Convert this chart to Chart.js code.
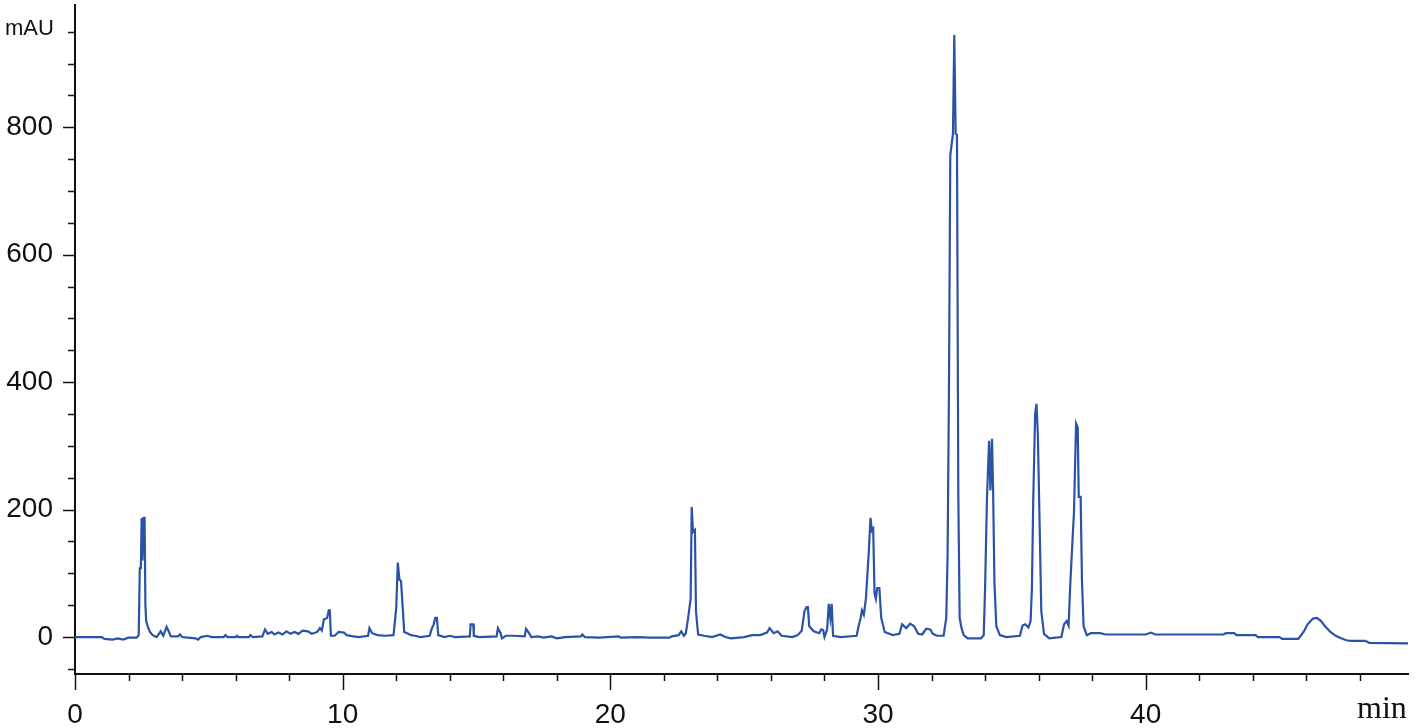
<!DOCTYPE html>
<html>
<head>
<meta charset="utf-8">
<title>Chromatogram</title>
<script src="https://cdn.jsdelivr.net/npm/chart.js@4.4.1/dist/chart.umd.min.js"></script>
<style>
    html, body { margin: 0; padding: 0; background: #fff; }
    #wrap { width: 1418px; height: 728px; }
</style>
</head>
<body>
<div id="wrap"><canvas id="chromChart" width="1418" height="728"></canvas></div>
<script>
// ==================== Data ====================
const retentionTimes = [
    0, 1.0, 1.1, 1.4, 1.6, 1.8, 2.0, 2.3, 2.38, 2.42, 2.46, 2.49, 2.52, 2.56, 2.60, 2.63, 2.66, 2.73, 2.80, 2.90,
    3.05, 3.2, 3.3, 3.42, 3.5, 3.58, 3.85, 3.92, 4.0, 4.5, 4.6, 4.7, 4.95, 5.1, 5.55, 5.62, 5.7, 6.0, 6.05, 6.1,
    6.5, 6.55, 6.65, 7.0, 7.1, 7.2, 7.35, 7.45, 7.6, 7.75, 7.9, 8.05, 8.2, 8.35, 8.5, 8.7, 8.85, 9.05, 9.15, 9.22,
    9.3, 9.42, 9.48, 9.52, 9.56, 9.7, 9.85, 10.05, 10.15, 10.4, 10.6, 10.95, 11.0, 11.1, 11.3, 11.6, 11.9, 12.0, 12.06, 12.12,
    12.18, 12.24, 12.3, 12.45, 12.55, 12.7, 12.9, 13.25, 13.32, 13.4, 13.46, 13.52, 13.57, 13.8, 14.0, 14.2, 14.75, 14.78, 14.88, 14.9,
    15.1, 15.75, 15.8, 15.9, 15.95, 16.1, 16.4, 16.8, 16.85, 16.95, 17.05, 17.3, 17.5, 17.8, 18.0, 18.3, 18.9, 18.95, 19.05, 19.6,
    20.3, 20.4, 21.0, 21.5, 22.2, 22.3, 22.55, 22.65, 22.75, 22.82, 22.9, 23.0, 23.04, 23.09, 23.16, 23.2, 23.28, 23.5, 23.8, 24.1,
    24.3, 24.5, 25.0, 25.3, 25.6, 25.85, 25.95, 26.1, 26.25, 26.4, 26.8, 27.0, 27.15, 27.25, 27.33, 27.38, 27.43, 27.6, 27.8, 27.88,
    27.95, 28.0, 28.1, 28.16, 28.22, 28.27, 28.32, 28.6, 29.2, 29.28, 29.35, 29.4, 29.47, 29.55, 29.65, 29.72, 29.77, 29.82, 29.87, 29.92,
    29.97, 30.05, 30.12, 30.25, 30.55, 30.8, 30.9, 31.05, 31.2, 31.35, 31.5, 31.65, 31.8, 31.95, 32.05, 32.2, 32.45, 32.55, 32.6, 32.65,
    32.7, 32.8, 32.85, 32.9, 32.95, 33.0, 33.05, 33.12, 33.2, 33.35, 33.85, 33.95, 34.0, 34.07, 34.15, 34.2, 34.26, 34.3, 34.35, 34.42,
    34.55, 34.8, 35.3, 35.4, 35.5, 35.62, 35.7, 35.75, 35.8, 35.87, 35.92, 35.97, 36.05, 36.1, 36.2, 36.4, 36.85, 36.95, 37.05, 37.12,
    37.18, 37.27, 37.32, 37.4, 37.46, 37.5, 37.57, 37.62, 37.68, 37.8, 37.95, 38.3, 38.5, 40.0, 40.2, 40.35, 42.9, 43.0, 43.3, 43.4,
    44.1, 44.2, 45.0, 45.1, 45.7, 45.9, 46.05, 46.25, 46.4, 46.55, 46.7, 46.9, 47.1, 47.3, 47.5, 47.65, 48.2, 48.35, 49.8
];

const absorbance = [
    0, 0, -3, -4, -2, -4, -1, -1, 3, 108, 108, 187, 120, 187, 187, 50, 25, 15, 8, 3,
    0, 9, 2, 16, 9, 1, 1, 4, 0, -2, -4, 0, 2, 0, 0, 3, 0, 0, 2, 0,
    0, 3, 0, 1, 12, 5, 8, 4, 7, 4, 9, 5, 8, 5, 10, 9, 5, 8, 14, 10,
    28, 30, 42, 42, 2, 2, 8, 7, 3, 1, 0, 2, 14, 6, 3, 2, 3, 45, 117, 90,
    88, 48, 8, 5, 3, 2, 0, 2, 12, 20, 30, 30, 3, 0, 2, 0, 1, 20, 20, 2,
    0, 1, 14, 6, -2, 2, 2, 1, 13, 7, 0, 1, -1, 1, -2, 0, 1, 4, 0, -1,
    1, -1, 0, -1, -1, 1, 3, 9, 2, 6, 28, 60, 204, 165, 168, 40, 4, 2, 0, 4,
    0, -2, 0, 3, 3, 7, 14, 6, 9, 2, 0, 3, 10, 40, 47, 47, 17, 9, 6, 12,
    11, 0, 12, 52, 30, 52, 2, 0, 2, 18, 30, 42, 35, 61, 130, 187, 167, 170, 68, 60,
    77, 77, 30, 8, 3, 5, 20, 14, 21, 17, 5, 4, 13, 12, 5, 2, 2, 30, 130, 387,
    756, 790, 945, 790, 788, 222, 30, 14, 3, -2, -2, 3, 77, 217, 308, 230, 311, 230, 85, 17,
    3, 0, 2, 18, 20, 15, 25, 77, 217, 350, 366, 320, 150, 41, 5, -2, 0, 20, 25, 18,
    80, 155, 195, 335, 329, 220, 220, 88, 17, 3, 6, 6, 4, 4, 7, 4, 4, 6, 6, 3,
    3, 0, 0, -3, -3, 8, 20, 29, 30, 25, 17, 8, 2, -2, -5, -6, -6, -9, -10
];

const xTickLabels = [0, 10, 20, 30, 40];
const yTickLabels = [0, 200, 400, 600, 800];

const lineColor = '#2a52a8';
const axisColor = '#111111';

// ==================== Axis Ticks Plugin ====================
const axisDecor = {
    id: 'axisDecor',
    afterDraw(chart) {
        const { ctx, chartArea, scales } = chart;
        ctx.save();
        ctx.strokeStyle = axisColor;
        ctx.lineWidth = 1.5;

        // y ticks every 50, longer at labels
        for (let v = -50; v <= 950; v += 50) {
            const py = Math.round(scales.y.getPixelForValue(v)) + 0.5;
            const len = v % 200 === 0 ? 12 : 7;
            ctx.beginPath();
            ctx.moveTo(chartArea.left - len, py);
            ctx.lineTo(chartArea.left, py);
            ctx.stroke();
        }

        // x ticks every 2 min, longer at labels
        for (let t = 0; t <= 48; t += 2) {
            const px = Math.round(scales.x.getPixelForValue(t)) + 0.5;
            const len = t % 10 === 0 ? 16 : 7;
            ctx.beginPath();
            ctx.moveTo(px, chartArea.bottom);
            ctx.lineTo(px, chartArea.bottom + len);
            ctx.stroke();
        }

        // unit labels
        ctx.fillStyle = axisColor;
        ctx.textBaseline = 'alphabetic';
        ctx.font = '22px "Liberation Sans", Arial, sans-serif';
        ctx.fillText('mAU', 5, 35);
        ctx.font = '32px "Liberation Serif", "Times New Roman", serif';
        ctx.fillText('min', 1357, 718);
        ctx.restore();
    }
};

// ==================== Chart ====================
const tickFont = { family: '"Liberation Sans", Arial, sans-serif', size: 28 };

function fixPadding(s) {
    s.paddingTop = 0;
    s.paddingBottom = 0;
    s.paddingLeft = 0;
    s.paddingRight = 0;
}

const ctx = document.getElementById('chromChart').getContext('2d');
const chromChart = new Chart(ctx, {
    type: 'line',
    data: {
        datasets: [{
            label: 'Absorbance',
            data: retentionTimes.map((t, i) => ({ x: t, y: absorbance[i] })),
            borderColor: lineColor,
            borderWidth: 2.2,
            pointRadius: 0,
            tension: 0,
            fill: false
        }]
    },
    options: {
        responsive: false,
        animation: false,
        devicePixelRatio: 1,
        layout: { padding: { top: 5, right: 10, left: 0, bottom: 0 } },
        plugins: {
            legend: { display: false },
            tooltip: { enabled: false }
        },
        scales: {
            x: {
                type: 'linear',
                min: 0,
                max: 49.8,
                afterBuildTicks: s => { s.ticks = xTickLabels.map(v => ({ value: v })); },
                afterFit: s => { s.height = 54; fixPadding(s); },
                grid: { display: false, drawTicks: false },
                border: { display: true, color: axisColor, width: 2 },
                ticks: {
                    padding: 24,
                    color: axisColor,
                    font: tickFont,
                    maxRotation: 0,
                    autoSkip: false
                }
            },
            y: {
                min: -58,
                max: 992,
                afterBuildTicks: s => { s.ticks = yTickLabels.map(v => ({ value: v })); },
                afterFit: s => { s.width = 75; fixPadding(s); },
                grid: { display: false, drawTicks: false },
                border: { display: true, color: axisColor, width: 2 },
                ticks: {
                    padding: 22,
                    color: axisColor,
                    font: tickFont,
                    autoSkip: false
                }
            }
        }
    },
    plugins: [axisDecor]
});
</script>
</body>
</html>
